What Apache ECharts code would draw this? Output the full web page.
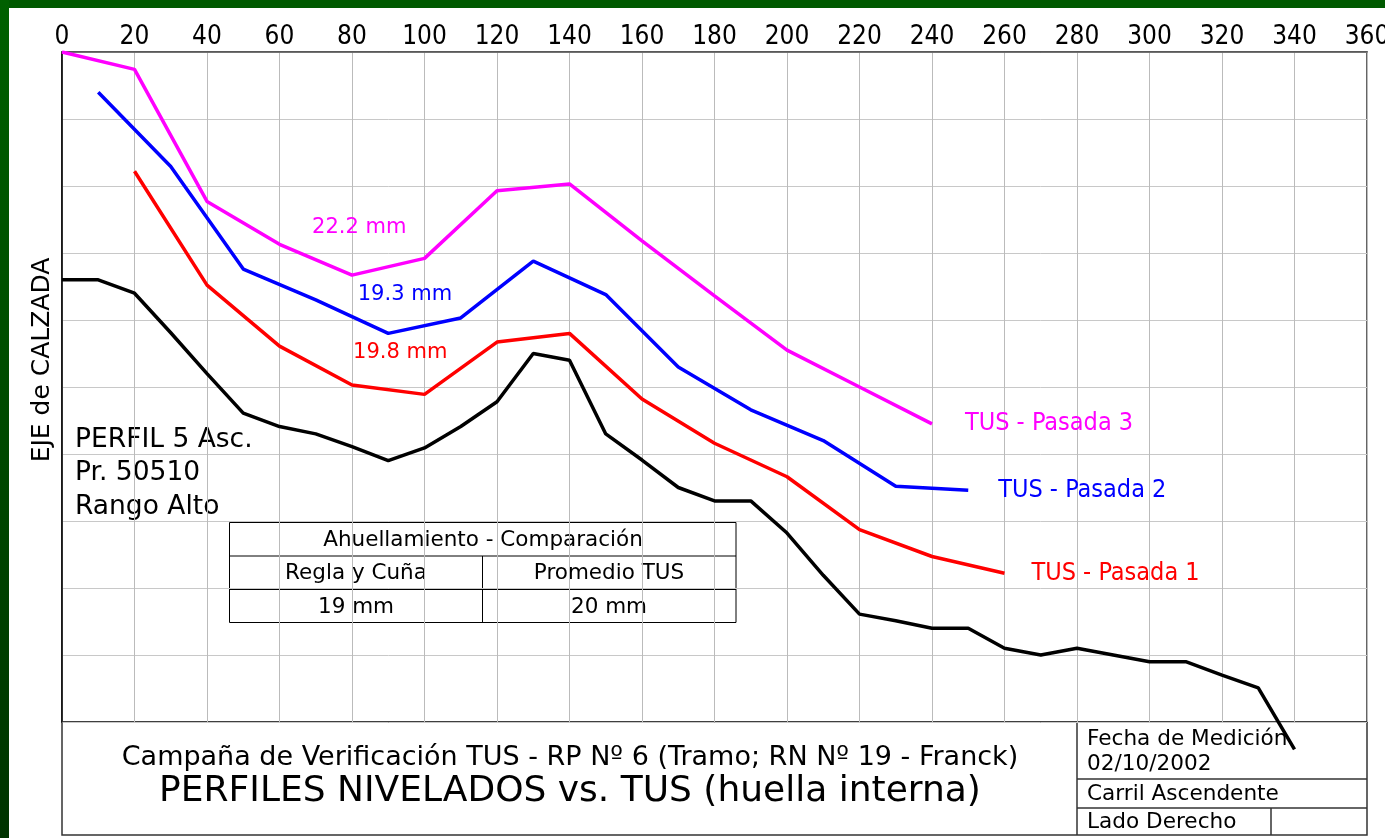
<!DOCTYPE html>
<html>
  <head>
    <meta charset="UTF-8" />
    <title>Perfiles nivelados vs. TUS</title>
    <script src="https://cdn.jsdelivr.net/npm/echarts@6/dist/echarts.min.js"></script>
    <style>
      html, body { margin: 0; padding: 0; background: #fff; }
    </style>
  </head>
  <body>
    <div id="chart" style="width: 1385px; height: 838px"></div>
  </body>
  <script>
    // Perfil nivelado (regla y cuña), cada 10 cm
    const perfilX = [0, 10, 20, 30, 40, 50, 60, 70, 80, 90, 100, 110, 120, 130, 140, 150, 160, 170,
      180, 190, 200, 210, 220, 230, 240, 250, 260, 270, 280, 290, 300, 310, 320, 330, 340];
    const perfilY = [-34.0, -34.0, -36.0, -41.9, -48.0, -53.9, -55.9, -57.0, -58.9, -61.0, -59.1,
      -55.9, -52.2, -45.0, -46.0, -57.0, -60.9, -65.0, -67.0, -67.0, -71.8, -78.1, -83.9, -84.9,
      -86.0, -86.0, -89.0, -90.0, -89.0, -90.0, -91.0, -91.0, -93.0, -94.9, -104.1];

    const pasada1X = [20, 40, 60, 80, 100, 120, 140, 160, 180, 200, 220, 240, 260];
    const pasada1Y = [-17.8, -34.8, -43.9, -49.7, -51.1, -43.3, -42.0, -51.8, -58.4, -63.4, -71.3, -75.3, -77.8];

    const pasada2X = [10, 30, 50, 70, 90, 110, 130, 150, 170, 190, 210, 230, 250];
    const pasada2Y = [-6.0, -17.1, -32.4, -37.0, -42.0, -39.7, -31.2, -36.2, -47.0, -53.4, -58.0, -64.8, -65.4];

    const pasada3X = [0, 20, 40, 60, 80, 100, 120, 140, 160, 180, 200, 220, 240];
    const pasada3Y = [0.0, -2.6, -22.3, -28.7, -33.3, -30.8, -20.7, -19.7, -28.2, -36.4, -44.5, -50.0, -55.5];

    const FONT = "DejaVu Sans";
    const FONT_N = "DejaVu Sans Condensed";

    const pairs = (xs, ys) => xs.map((x, i) => [x, ys[i]]);

    // texto simple para el bloque graphic
    function txt(text, x, y, size, opts) {
      return {
        type: "text",
        x: x,
        y: y,
        rotation: (opts && opts.rotation) || 0,
        style: {
          text: text,
          fill: (opts && opts.color) || "#000",
          fontSize: size,
          fontFamily: FONT,
          align: (opts && opts.align) || "left",
          verticalAlign: "middle",
        },
      };
    }
    function line(x1, y1, x2, y2, color, w) {
      return {
        type: "line",
        shape: { x1: x1, y1: y1, x2: x2, y2: y2 },
        style: { stroke: color || "#000", lineWidth: w || 1 },
      };
    }
    function mmLabel(text, x, y, color) {
      return {
        symbol: "circle",
        symbolSize: 1,
        itemStyle: { color: "transparent" },
        coord: [x, y],
        label: { show: true, position: "inside", formatter: text, color: color, fontSize: 21, fontFamily: FONT },
      };
    }
    function endLbl(text, color, dist) {
      return { show: true, formatter: text, color: color, fontSize: 25, fontFamily: FONT_N, distance: dist };
    }

    let myChart = echarts.init(document.getElementById("chart"));

    myChart.setOption({
      animation: false,
      backgroundColor: "#fff",
      grid: {
        left: 62,
        top: 52,
        width: 1305,
        height: 670,
        show: true,
        borderColor: "#333",
        borderWidth: 1.5,
        containLabel: false,
        outerBoundsMode: "none",
      },
      xAxis: {
        type: "value",
        position: "top",
        min: 0,
        max: 360,
        interval: 20,
        axisLine: { show: true, lineStyle: { color: "#555", width: 1.5 } },
        axisTick: { show: false },
        axisLabel: { color: "#000", fontSize: 26, fontFamily: FONT_N, margin: 2 },
        splitLine: { show: true, lineStyle: { color: "#bbb", width: 1 } },
      },
      yAxis: {
        type: "value",
        min: -100,
        max: 0,
        interval: 10,
        axisLine: { show: true, lineStyle: { color: "#000", width: 1.5 } },
        axisTick: { show: false },
        axisLabel: { show: false },
        splitLine: { show: true, lineStyle: { color: "#c8c8c8", width: 1 } },
      },
      series: [
        {
          name: "Perfil",
          type: "line",
          data: pairs(perfilX, perfilY),
          showSymbol: false,
          clip: false,
          lineStyle: { color: "#000", width: 3.5 },
        },
        {
          name: "TUS - Pasada 1",
          type: "line",
          data: pairs(pasada1X, pasada1Y),
          showSymbol: false,
          lineStyle: { color: "#ff0000", width: 3.5 },
          endLabel: endLbl("TUS - Pasada 1", "#ff0000", 27),
          markPoint: { data: [mmLabel("19.8 mm", 93.3, -44.9, "#ff0000")] },
        },
        {
          name: "TUS - Pasada 2",
          type: "line",
          data: pairs(pasada2X, pasada2Y),
          showSymbol: false,
          lineStyle: { color: "#0000ff", width: 3.5 },
          endLabel: endLbl("TUS - Pasada 2", "#0000ff", 30),
          markPoint: { data: [mmLabel("19.3 mm", 94.6, -36.2, "#0000ff")] },
        },
        {
          name: "TUS - Pasada 3",
          type: "line",
          data: pairs(pasada3X, pasada3Y),
          showSymbol: false,
          lineStyle: { color: "#ff00ff", width: 3.5 },
          endLabel: endLbl("TUS - Pasada 3", "#ff00ff", 33),
          markPoint: { data: [mmLabel("22.2 mm", 82, -26.2, "#ff00ff")] },
        },
      ],
      graphic: [
        // marco verde
        { type: "rect", shape: { x: 0, y: 0, width: 1385, height: 8 }, style: { fill: "#005a00" } },
        {
          type: "rect",
          shape: { x: 0, y: 0, width: 9, height: 838 },
          style: {
            fill: new echarts.graphic.LinearGradient(0, 0, 0, 1, [
              { offset: 0, color: "#006000" },
              { offset: 1, color: "#003400" },
            ]),
          },
        },
        txt("EJE de CALZADA", 42, 360, 25, { align: "center", rotation: Math.PI / 2 }),
        txt("PERFIL 5 Asc.", 75, 440, 26.5),
        txt("Pr. 50510", 75, 473, 26.5),
        txt("Rango Alto", 75, 507, 26.5),

        // tabla de comparación
        { type: "rect", shape: { x: 229.5, y: 522.5, width: 506.5, height: 100 }, style: { fill: null, stroke: "#000", lineWidth: 1 } },
        line(229.5, 556, 736, 556),
        line(229.5, 589.5, 736, 589.5),
        line(482.5, 556, 482.5, 622.5),
        txt("Ahuellamiento - Comparación", 483, 540, 21.5, { align: "center" }),
        txt("Regla y Cuña", 356, 573, 21.5, { align: "center" }),
        txt("Promedio TUS", 609, 573, 21.5, { align: "center" }),
        txt("19 mm", 356, 607, 21.5, { align: "center" }),
        txt("20 mm", 609, 607, 21.5, { align: "center" }),

        // rótulo
        { type: "rect", shape: { x: 62, y: 722, width: 1305, height: 113 }, style: { fill: null, stroke: "#333", lineWidth: 1.5 } },
        line(1077, 722, 1077, 835, "#333", 1.5),
        line(1077, 779, 1367, 779, "#333", 1.5),
        line(1077, 808, 1367, 808, "#333", 1.5),
        line(1271, 808, 1271, 835, "#333", 1.5),
        txt("Campaña de Verificación TUS - RP Nº 6 (Tramo; RN Nº 19 - Franck)", 570, 758, 27, { align: "center" }),
        txt("PERFILES NIVELADOS vs. TUS (huella interna)", 570, 792, 36, { align: "center" }),
        txt("Fecha de Medición", 1087, 739, 21.6),
        txt("02/10/2002", 1087, 764, 21.6),
        txt("Carril Ascendente", 1087, 794, 21.6),
        txt("Lado Derecho", 1087, 822, 21.6),
      ],
    });
  </script>
</html>
